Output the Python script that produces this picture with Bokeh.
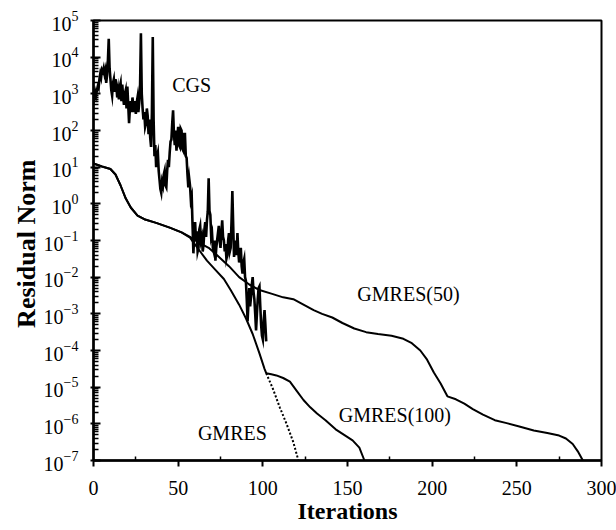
import numpy as np
from bokeh.plotting import figure
from bokeh.models import FixedTicker, Label
from bokeh.embed import file_html
from bokeh.resources import INLINE

# ---- data (iteration, exponent of residual norm) ----
cgs_iter = [0, 0.5, 1, 1.5, 2, 2.5, 3, 3.5, 4, 4.5, 5, 5.5, 6, 6.5, 7, 7.5, 8, 8.5, 9, 9.5,
            10, 10.5, 11, 11.5, 12, 12.5, 13, 13.5, 14, 14.5, 15, 15.5, 16, 16.5, 17, 17.5, 18, 18.5, 19, 19.5,
            20, 20.5, 21, 21.5, 22, 22.5, 23, 23.5, 24, 24.5, 25, 25.5, 26, 26.5, 27, 27.5, 28, 28.5, 29, 29.5,
            30, 30.5, 31, 31.5, 32, 32.5, 33, 33.5, 34, 34.5, 35, 35.5, 36, 36.5, 37, 37.5, 38, 38.5, 39, 39.5,
            40, 40.5, 41, 41.5, 42, 42.5, 43, 43.5, 44, 44.5, 45, 45.5, 46, 46.5, 47, 47.5, 48, 48.5, 49, 49.5,
            50, 50.5, 51, 51.5, 52, 52.5, 53, 53.5, 54, 54.5, 55, 55.5, 56, 56.5, 57, 57.5, 58, 58.5, 59, 59.5,
            60, 60.5, 61, 61.5, 62, 62.5, 63, 63.5, 64, 64.5, 65, 65.5, 66, 66.5, 67, 67.5, 68, 68.5, 69, 69.5,
            70, 70.5, 71, 71.5, 72, 72.5, 73, 73.5, 74, 74.5, 75, 75.5, 76, 76.5, 77, 77.5, 78, 78.5, 79, 79.5,
            80, 80.5, 81, 81.5, 82, 82.5, 83, 83.5, 84, 84.5, 85, 85.5, 86, 86.5, 87, 87.5, 88, 88.5, 89, 89.5,
            90, 90.5, 91, 91.5, 92, 92.5, 93, 93.5, 94, 94.5, 95, 95.5, 96, 96.5, 97, 97.5, 98, 98.5, 99, 99.5,
            100, 100.5, 101, 101.5, 102]
cgs_exp = [3.0, 2.9, 3.05, 2.95, 3.1, 3.2, 3.15, 3.4, 3.55, 3.45, 3.65, 3.6, 3.7, 3.55, 3.65, 3.3, 3.5, 3.9, 4.5, 3.7,
           3.4, 3.1, 2.95, 3.3, 3.4, 3.05, 3.4, 3.2, 2.9, 3.1, 2.85, 3.2, 3.3, 2.8, 3.25, 2.9, 2.7, 3.0, 3.1, 2.6,
           3.2, 2.7, 2.2, 2.6, 2.8, 2.5, 2.9, 2.7, 2.5, 2.8, 2.45, 2.75, 2.9, 2.5, 2.75, 3.2, 4.65, 3.0, 2.6, 2.3,
           2.5, 2.1, 2.2, 2.6, 2.4, 1.9, 2.3, 1.8, 1.55, 2.5, 4.55, 2.3, 1.3, 1.6, 1.0, 1.3, 1.4, 0.9, 0.65, 0.4,
           0.3, 0.6, 0.5, 0.8, 0.9, 0.5, 0.45, 0.9, 1.2, 1.0, 1.4, 1.7, 1.75, 2.2, 2.55, 1.9, 1.6, 2.0, 1.45, 1.8,
           2.1, 1.6, 1.55, 2.05, 2.0, 1.5, 1.45, 1.9, 1.9, 1.3, 1.25, 0.8, 0.45, 0.7, 0.5, 0.1, 0.2, -0.6, -1.35, -0.8,
           -0.5, -1.0, -0.75, -1.3, -1.2, -0.7, -0.6, -1.0, -0.9, -1.3, -1.1, -0.7, -0.5, -0.9, -0.45, -0.2, 0.7, -0.2, -0.3, -0.9,
           -0.8, -1.2, -1.3, -1.0, -1.55, -1.2, -1.0, -0.8, -0.6, -1.0, -1.2, -0.8, -0.45, -0.9, -1.0, -1.3, -1.1, -1.5, -1.4, -1.0,
           -0.8, -1.3, -1.2, -0.5, 0.35, -0.6, -1.45, -1.2, -1.0, -1.4, -0.8, -1.3, -1.6, -1.4, -1.2, -1.7, -1.9, -1.6, -1.5, -2.0,
           -2.1, -2.6, -3.2, -2.7, -2.3, -2.8, -2.55, -2.2, -2.0, -2.4, -2.6, -3.0, -3.45, -3.0, -2.6, -2.3, -2.25, -2.8, -3.3, -3.6,
           -3.7, -3.2, -2.9, -3.3, -3.75]

g50_iter = [0, 5, 10, 13, 16, 19, 22, 26, 30, 37, 45, 52, 57, 62, 68, 73, 80, 86, 92, 98,
            105, 112, 118, 124, 130, 135, 141, 147, 154, 161, 168, 176, 183, 188, 193, 197, 201, 205, 209, 214,
            219, 224, 230, 237, 244, 252, 260, 268, 275, 279, 283, 286, 289]
g50_exp = [1.1, 1.02, 0.95, 0.8, 0.5, 0.15, -0.1, -0.32, -0.42, -0.52, -0.65, -0.78, -0.9, -1.05, -1.2, -1.4, -1.7, -2.0, -2.2, -2.35,
           -2.45, -2.55, -2.6, -2.75, -2.9, -3.0, -3.1, -3.25, -3.4, -3.5, -3.55, -3.6, -3.68, -3.8, -4.0, -4.25, -4.6, -4.9, -5.25, -5.33,
           -5.45, -5.6, -5.75, -5.9, -5.98, -6.08, -6.18, -6.25, -6.32, -6.4, -6.55, -6.75, -7.0]

g100_iter = [0, 5, 10, 13, 16, 19, 22, 26, 30, 37, 45, 52, 57, 59, 63, 67, 72, 77, 81, 86,
             90, 94, 98, 101, 102, 105, 108, 112, 116, 120, 124, 128, 132, 137, 143, 148, 153, 157, 160]
g100_exp = [1.1, 1.02, 0.95, 0.8, 0.5, 0.15, -0.1, -0.32, -0.42, -0.52, -0.65, -0.78, -0.92, -1.05, -1.3, -1.55, -1.8, -2.05, -2.35, -2.75,
            -3.12, -3.55, -4.08, -4.5, -4.62, -4.65, -4.68, -4.75, -4.85, -5.1, -5.35, -5.55, -5.72, -5.9, -6.15, -6.3, -6.45, -6.65, -7.0]

gm_iter = [102, 106, 110, 114, 118, 121]
gm_exp = [-4.62, -5.05, -5.55, -6.0, -6.5, -7.0]

x_ticks = [0, 50, 100, 150, 200, 250, 300]
y_exponents = list(range(-7, 6))

FONT = "Liberation Serif"

p = figure(width=616, height=530, output_backend="svg", toolbar_location=None,
           x_range=(0, 300), y_range=(1e-7, 1e5), y_axis_type="log",
           min_border_left=93, min_border_right=15, min_border_top=20, min_border_bottom=70)

p.background_fill_color = "white"
p.border_fill_color = "white"
p.outline_line_color = "black"
p.outline_line_width = 2
p.xgrid.visible = False
p.ygrid.visible = False

# lines
p.line(cgs_iter, [10.0 ** e for e in cgs_exp], line_color="black", line_width=2.6, line_join="miter")
p.line(g50_iter, [10.0 ** e for e in g50_exp], line_color="black", line_width=2)
p.line(g100_iter, [10.0 ** e for e in g100_exp], line_color="black", line_width=2)
p.line(gm_iter, [10.0 ** e for e in gm_exp], line_color="black", line_width=2, line_dash="2 2")

# axes
yt = [10.0 ** e for e in y_exponents]
yminor = [m * 10.0 ** e for e in y_exponents[:-1] for m in range(2, 10)]
p.yaxis.ticker = FixedTicker(ticks=yt, minor_ticks=yminor)
xminor = [25, 75, 125, 175, 225, 275]
p.xaxis.ticker = FixedTicker(ticks=x_ticks, minor_ticks=xminor)

for ax in (p.xaxis[0], p.yaxis[0]):
    ax.axis_line_width = 2.5
    ax.major_tick_line_width = 2
    ax.minor_tick_line_width = 1.5
    ax.major_label_text_font = FONT
    ax.major_label_text_font_size = "20px"
    ax.major_label_text_color = "black"
    ax.axis_label_text_font = FONT
    ax.axis_label_text_font_style = "bold"
    ax.axis_label_text_color = "black"

p.yaxis.major_tick_in = 7
p.yaxis.major_tick_out = 3
p.yaxis.minor_tick_in = 5
p.yaxis.minor_tick_out = 0
p.yaxis.major_label_standoff = 12
p.yaxis.axis_label = "Residual  Norm"
p.yaxis.axis_label_text_font_size = "26px"
p.yaxis.axis_label_standoff = 0

p.xaxis.major_tick_in = 0
p.xaxis.major_tick_out = 6
p.xaxis.minor_tick_in = 4
p.xaxis.minor_tick_out = 0
p.xaxis.major_label_standoff = 14
p.xaxis.axis_label = "Iterations"
p.xaxis.axis_label_text_font_size = "24px"
p.xaxis.axis_label_standoff = 0

# curve labels
for txt, xx, yy in [("CGS", 58, 10 ** 3.25), ("GMRES(50)", 186, 10 ** -2.47),
                    ("GMRES(100)", 178, 10 ** -5.77), ("GMRES", 82, 10 ** -6.24)]:
    p.add_layout(Label(x=xx, y=yy, text=txt, text_font=FONT, text_font_size="20px",
                       text_align="center", text_baseline="middle", text_color="black"))

open("out.html", "w").write(file_html(p, INLINE))
